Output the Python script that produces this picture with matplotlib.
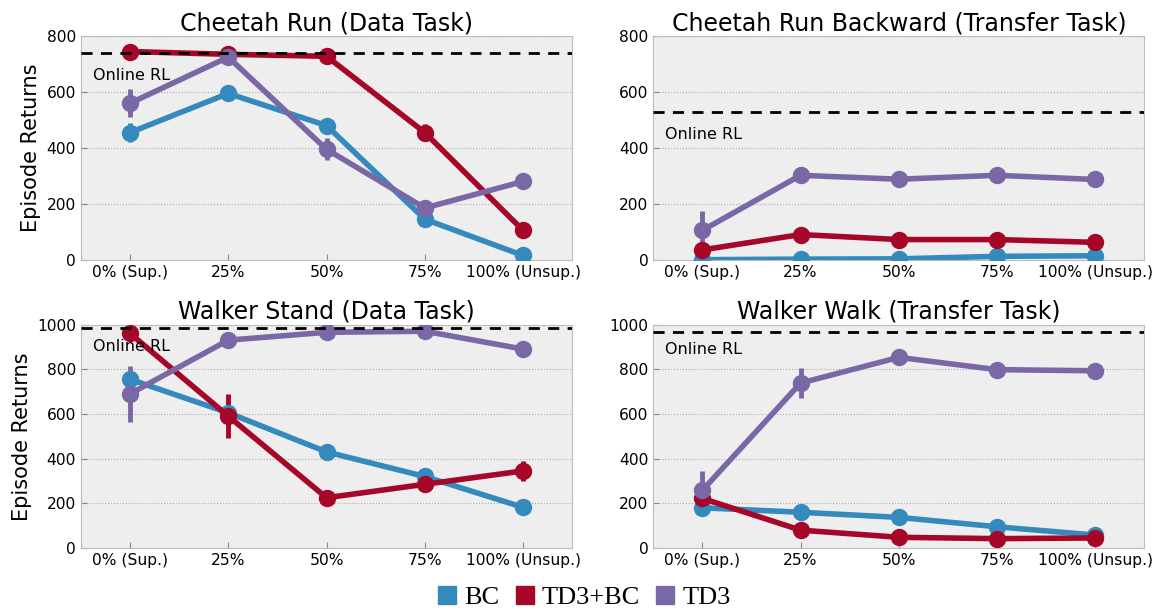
import matplotlib
matplotlib.use("Agg")
import matplotlib.pyplot as plt
from matplotlib.lines import Line2D
import numpy as np

categories = ["0% (Sup.)", "25%", "50%", "75%", "100% (Unsup.)"]
methods = ["BC", "TD3+BC", "TD3"]
colors = {"BC": "#348ABD", "TD3+BC": "#A60628", "TD3": "#7A68A6"}

titles = ["Cheetah Run (Data Task)", "Cheetah Run Backward (Transfer Task)",
          "Walker Stand (Data Task)", "Walker Walk (Transfer Task)"]
online_rl = [738, 527, 983, 967]
ylims = [800, 800, 1000, 1000]

# mean returns per panel, per method
means = [
    {"BC": [455, 595, 480, 145, 15],
     "TD3+BC": [745, 735, 728, 455, 105],
     "TD3": [560, 725, 395, 185, 280]},
    {"BC": [0, 2, 3, 12, 14],
     "TD3+BC": [35, 90, 72, 72, 62],
     "TD3": [105, 302, 288, 302, 287]},
    {"BC": [755, 605, 430, 320, 182],
     "TD3+BC": [960, 590, 225, 285, 345],
     "TD3": [690, 930, 965, 970, 890]},
    {"BC": [180, 160, 137, 95, 58],
     "TD3+BC": [222, 80, 48, 42, 45],
     "TD3": [258, 738, 853, 798, 793]},
]
# error bar half-widths
errs = [
    {"BC": [35, 12, 20, 25, 8],
     "TD3+BC": [8, 8, 8, 30, 10],
     "TD3": [50, 15, 40, 25, 10]},
    {"BC": [2, 2, 2, 4, 4],
     "TD3+BC": [10, 8, 6, 6, 6],
     "TD3": [68, 10, 8, 8, 8]},
    {"BC": [30, 15, 25, 15, 10],
     "TD3+BC": [10, 100, 25, 25, 45],
     "TD3": [125, 10, 8, 8, 25]},
    {"BC": [10, 8, 8, 8, 8],
     "TD3+BC": [15, 8, 6, 5, 5],
     "TD3": [88, 68, 10, 8, 8]},
]

plt.style.use("bmh")
fig, axes = plt.subplots(2, 2, figsize=(11.56, 6.13), dpi=100)
fig.subplots_adjust(left=0.070, right=0.990, top=0.941, bottom=0.106,
                    hspace=0.29, wspace=0.165)

x = np.arange(len(categories))
for i, ax in enumerate(axes.flat):
    ax.set_facecolor("#eeeeee")
    for m in methods:
        ax.errorbar(x, means[i][m], yerr=errs[i][m], color=colors[m], lw=4,
                    marker="o", ms=11.5, elinewidth=3.5, capsize=0, zorder=3)
    ax.axhline(online_rl[i], color="black", ls="--", lw=2, dashes=(4, 3), zorder=4)
    ax.text(-0.38, online_rl[i] - 80, "Online RL", fontsize=11.5, va="center", zorder=5)
    ax.set_xlim(-0.5, 4.5)
    ax.set_ylim(0, ylims[i])
    ax.set_yticks(np.arange(0, ylims[i] + 1, 200))
    ax.set_xticks(x)
    ax.set_xticklabels(categories)
    ax.tick_params(labelsize=11.2, length=4, color="#888888", direction="in")
    ax.grid(False)
    ax.yaxis.grid(True, ls=":", color="#aaaaaa", lw=0.8)
    for s in ax.spines.values():
        s.set_color("#bcbcbc")
    ax.set_title(titles[i], fontsize=17, pad=4)
    if i % 2 == 0:
        ax.set_ylabel("Episode Returns", fontsize=15)

handles = [Line2D([], [], ls="none", marker="s", ms=13, color=colors[m]) for m in methods]
fig.legend(handles, methods, loc="lower center", ncol=3, frameon=False,
           prop={"family": "Liberation Serif", "size": 19},
           bbox_to_anchor=(0.505, -0.032), handletextpad=0.25, columnspacing=0.55,
           handlelength=0.8)

fig.savefig("out.png", dpi=100)
